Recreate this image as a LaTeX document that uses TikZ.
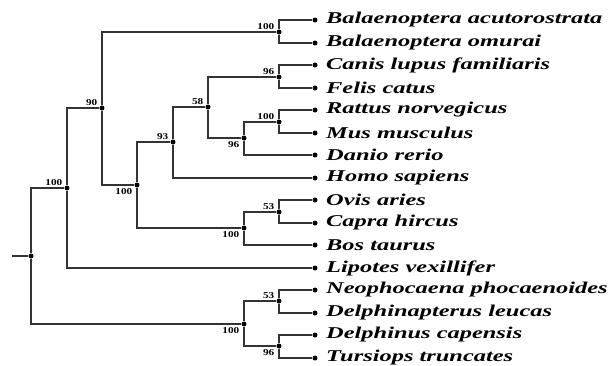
\documentclass[tikz,border=0pt]{standalone}
\usepackage{graphicx}
\usepackage{fontspec}
\setmainfont{Liberation Serif}
\newcommand{\wide}[1]{\scalebox{1.48}[1]{#1}}
\newcommand{\bwide}[1]{\scalebox{1.25}[1]{#1}}
\begin{document}
\begin{tikzpicture}[x=1pt,y=-1pt,
  br/.style={line width=2pt,black!80},
  dot/.style={circle,fill=black,inner sep=0pt,minimum size=5pt},
  leaf/.style={anchor=west,inner sep=0pt,font=\fontsize{16.5}{18}\selectfont\bfseries\itshape},
  bs/.style={inner sep=0.5pt,font=\fontsize{9}{9}\selectfont\bfseries}]
\useasboundingbox (0,0) rectangle (611,365);
% internal nodes
\node[dot] (R) at (31,256) {};
\node[dot] (A) at (67,188) {};
\node[dot] (B) at (102,108) {};
\node[dot] (C) at (137,185) {};
\node[dot] (E) at (173,142) {};
\node[dot] (G) at (208,107) {};
\node[dot] (H) at (244,138) {};
\node[dot] (F) at (244,228) {};
\node[dot] (D) at (244,324) {};
\node[dot] (Bal) at (279,32) {};
\node[dot] (CF) at (279,77) {};
\node[dot] (RM) at (279,122) {};
\node[dot] (OC) at (279,212) {};
\node[dot] (ND) at (279,301) {};
\node[dot] (DT) at (279,346) {};
\coordinate (stub) at (12,256);
% leaves
\foreach \n/\y/\t in {l1/20/Balaenoptera acutorostrata, l2/43/Balaenoptera omurai,
  l3/65/Canis lupus familiaris, l4/88/Felis catus, l5/110/Rattus norvegicus,
  l6/133/Mus musculus, l7/155/Danio rerio, l8/178/Homo sapiens,
  l9/200/Ovis aries, l10/223/Capra hircus, l11/245/Bos taurus,
  l12/268/Lipotes vexillifer, l13/290/Neophocaena phocaenoides,
  l14/313/Delphinapterus leucas, l15/335/Delphinus capensis,
  l16/358/Tursiops truncates}{
  \node[dot] (\n) at (315,\y) {};
  \node[leaf] (t\n) at (326,\y) {\wide{\t}};
}
% branches
\draw[br] (stub) -- (R);
\draw[br] (R) |- (A); \draw[br] (R) |- (D);
\draw[br] (A) |- (B); \draw[br] (A) |- (l12);
\draw[br] (B) |- (Bal); \draw[br] (B) |- (C);
\draw[br] (C) |- (E); \draw[br] (C) |- (F);
\draw[br] (E) |- (G); \draw[br] (E) |- (l8);
\draw[br] (G) |- (CF); \draw[br] (G) |- (H);
\draw[br] (H) |- (RM); \draw[br] (H) |- (l7);
\draw[br] (F) |- (OC); \draw[br] (F) |- (l11);
\draw[br] (D) |- (ND); \draw[br] (D) |- (DT);
\draw[br] (Bal) |- (l1); \draw[br] (Bal) |- (l2);
\draw[br] (CF) |- (l3); \draw[br] (CF) |- (l4);
\draw[br] (RM) |- (l5); \draw[br] (RM) |- (l6);
\draw[br] (OC) |- (l9); \draw[br] (OC) |- (l10);
\draw[br] (ND) |- (l13); \draw[br] (ND) |- (l14);
\draw[br] (DT) |- (l15); \draw[br] (DT) |- (l16);
% bootstrap values
\node[bs,anchor=south east] (v1) at ([xshift=-4pt,yshift=2pt]Bal.center) {\bwide{100}};
\node[bs,anchor=south east] (v2) at ([xshift=-4pt,yshift=2pt]CF.center) {\bwide{96}};
\node[bs,anchor=south east] (v3) at ([xshift=-4pt,yshift=2pt]RM.center) {\bwide{100}};
\node[bs,anchor=south east] (v4) at ([xshift=-4pt,yshift=2pt]G.center) {\bwide{58}};
\node[bs,anchor=south east] (v5) at ([xshift=-4pt,yshift=2pt]B.center) {\bwide{90}};
\node[bs,anchor=south east] (v6) at ([xshift=-4pt,yshift=2pt]E.center) {\bwide{93}};
\node[bs,anchor=south east] (v7) at ([xshift=-4pt,yshift=2pt]A.center) {\bwide{100}};
\node[bs,anchor=south east] (v8) at ([xshift=-4pt,yshift=2pt]OC.center) {\bwide{53}};
\node[bs,anchor=south east] (v9) at ([xshift=-4pt,yshift=2pt]ND.center) {\bwide{53}};
\node[bs,anchor=north east] (v10) at ([xshift=-4pt,yshift=-3pt]H.center) {\bwide{96}};
\node[bs,anchor=north east] (v11) at ([xshift=-4pt,yshift=-3pt]C.center) {\bwide{100}};
\node[bs,anchor=north east] (v12) at ([xshift=-4pt,yshift=-3pt]F.center) {\bwide{100}};
\node[bs,anchor=north east] (v13) at ([xshift=-4pt,yshift=-3pt]D.center) {\bwide{100}};
\node[bs,anchor=north east] (v14) at ([xshift=-4pt,yshift=-3pt]DT.center) {\bwide{96}};
\end{tikzpicture}
\end{document}
